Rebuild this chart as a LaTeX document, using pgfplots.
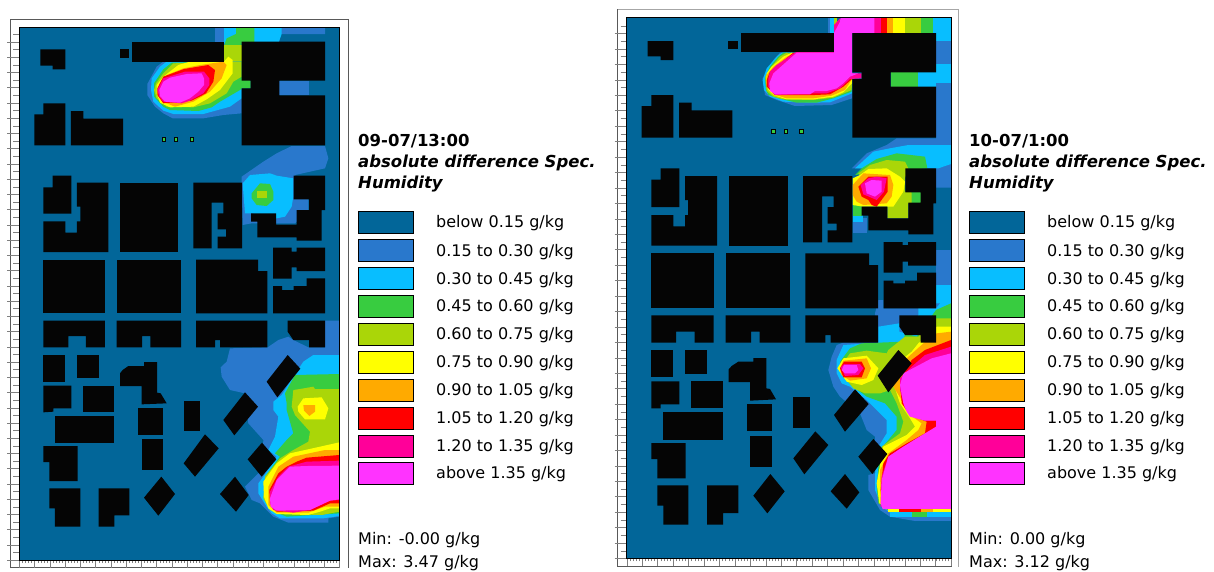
\documentclass[border=0pt]{standalone}
\usepackage{pgfplots}
\usepackage{fontspec}
\pgfplotsset{compat=1.18}
\setmainfont{DejaVu Sans}
\definecolor{c0}{RGB}{2,102,153}
\definecolor{c1}{RGB}{41,120,204}
\definecolor{c2}{RGB}{8,190,255}
\definecolor{c3}{RGB}{56,204,64}
\definecolor{c4}{RGB}{170,214,8}
\definecolor{c5}{RGB}{255,255,0}
\definecolor{c6}{RGB}{255,170,0}
\definecolor{c7}{RGB}{255,0,0}
\definecolor{c8}{RGB}{255,0,153}
\definecolor{c9}{RGB}{255,51,255}
\definecolor{k}{RGB}{5,5,5}
\def\xo{0}\def\yo{0}
\newcommand{\poly}[2]{\addplot[fill=#1,draw=none,forget plot] table[row sep=\\, x expr=\thisrowno{0}/3+\xo, y expr=\thisrowno{1}/3+\yo]{#2};}
\newcommand{\rect}[5]{\poly{#1}{#2 #3\\#4 #3\\#4 #5\\#2 #5\\}}
\newcommand{\swatch}[3]{\addplot[fill=#1,draw=black,line width=0.9pt,forget plot] coordinates {(#2,#3-11)(#2+55,#3-11)(#2+55,#3+11)(#2,#3+11)} -- cycle;}
\newcommand{\ltext}[3]{\node[anchor=west,inner sep=0pt,font=\fontsize{16pt}{16pt}\selectfont] at (axis cs:#1,#2) {#3};}
\newcommand{\legendblock}[5]{%
\swatch{c0}{#1}{222}\swatch{c1}{#1}{250}\swatch{c2}{#1}{278}\swatch{c3}{#1}{306}\swatch{c4}{#1}{334}%
\swatch{c5}{#1}{362}\swatch{c6}{#1}{390}\swatch{c7}{#1}{418}\swatch{c8}{#1}{446}\swatch{c9}{#1}{473}%
\ltext{#2}{223}{below 0.15 g/kg}\ltext{#2}{252}{0.15 to 0.30 g/kg}\ltext{#2}{280}{0.30 to 0.45 g/kg}%
\ltext{#2}{307}{0.45 to 0.60 g/kg}\ltext{#2}{335}{0.60 to 0.75 g/kg}\ltext{#2}{363}{0.75 to 0.90 g/kg}%
\ltext{#2}{391}{0.90 to 1.05 g/kg}\ltext{#2}{419}{1.05 to 1.20 g/kg}\ltext{#2}{447}{1.20 to 1.35 g/kg}%
\ltext{#2}{474}{above 1.35 g/kg}%
\ltext{#1}{540}{#4}\ltext{#1}{563}{#5}%
\node[anchor=west,inner sep=0pt,font=\bfseries\fontsize{16.5pt}{16.5pt}\selectfont] at (axis cs:#1,141) {#3};%
\node[anchor=west,inner sep=0pt,font=\bfseries\itshape\fontsize{16.5pt}{16.5pt}\selectfont] at (axis cs:#1,162.5) {absolute difference Spec.};%
\node[anchor=west,inner sep=0pt,font=\bfseries\itshape\fontsize{16.5pt}{16.5pt}\selectfont] at (axis cs:#1,184) {Humidity};%
}
\pgfplotsset{mapaxis/.style={scale only axis,clip=true,y dir=reverse,axis line style={black,line width=0.6pt},
 tick align=outside,xticklabels={},yticklabels={},extra y tick labels={}}}
\begin{document}
\begin{tikzpicture}
\useasboundingbox (0,0) rectangle (1214pt,571pt);
% page layer: frames, legends, text
\begin{axis}[at={(0,0)},anchor=south west,scale only axis,width=1214pt,height=571pt,hide axis,
 xmin=0,xmax=1214,ymin=0,ymax=571,y dir=reverse,clip=false]
\addplot[draw=black!65,line width=0.9pt,forget plot] coordinates {(10.3,568)(10.3,19)(348.3,19)(348.3,568)};
\addplot[draw=black!65,line width=0.9pt,forget plot] coordinates {(10.3,567.7)(340,567.7)};
\addplot[draw=black!35,line width=0.9pt,forget plot] coordinates {(617.3,567)(617.3,9)(958.5,9)(958.5,567)};
\addplot[draw=black!65,line width=0.9pt,forget plot] coordinates {(617.3,9)(617.3,566.7)(952,566.7)};
\legendblock{358}{436}{09-07/13:00}{Min: -0.00 g/kg}{Max: 3.47 g/kg}
\legendblock{969}{1047}{10-07/1:00}{Min: 0.00 g/kg}{Max: 3.12 g/kg}
\end{axis}
% ---------- LEFT MAP ----------
\begin{axis}[mapaxis,at={(19.33pt,11pt)},anchor=south west,width=320pt,height=532.67pt,
 xmin=19.33,xmax=339.33,ymin=27.33,ymax=560,xtick=\empty,
 ytick={41.84,72.32,...,560},extra y ticks={57.08,87.56,...,545},extra y tick style={tick style={color=black!50}},
 minor ytick={34.22,49.46,...,553},major tick length=12pt,minor tick length=6pt,ytick pos=left]
\def\xo{0}\def\yo{10}
\rect{c0}{58}{52}{1018}{1650}
% top plume
\poly{c1}{645 52\\975 52\\975 72\\838 72\\838 100\\725 100\\725 155\\672 155\\645 100\\}
\rect{c1}{838}{212}{928}{256}
\poly{c2}{672 52\\845 52\\845 72\\835 100\\672 100\\}
\poly{c3}{708 52\\763 52\\763 100\\725 100\\725 108\\672 108\\680 85\\708 72\\}
\rect{c4}{672}{105}{725}{160}
\poly{c1}{442 222\\470 170\\490 155\\725 155\\725 310\\670 315\\610 325\\518 325\\490 310\\465 290\\455 275\\442 255\\}
\poly{c2}{455 205\\480 170\\500 155\\725 155\\725 265\\690 290\\610 312\\520 312\\490 302\\460 275\\453 240\\}
\poly{c3}{462 220\\490 178\\515 158\\725 155\\725 200\\752 212\\752 235\\725 235\\720 240\\660 275\\635 292\\595 303\\510 300\\490 290\\462 260\\}
\poly{c4}{468 220\\490 190\\520 160\\690 155\\725 155\\725 200\\700 215\\680 250\\630 280\\580 292\\500 290\\470 265\\462 240\\}
\poly{c5}{470 225\\490 200\\535 165\\570 155\\672 155\\685 140\\698 150\\698 190\\660 240\\620 268\\580 290\\510 292\\480 278\\470 250\\}
\poly{c6}{478 222\\500 195\\550 175\\600 165\\670 155\\680 165\\665 205\\630 245\\580 275\\525 290\\500 280\\475 260\\}
\poly{c7}{472 235\\490 200\\552 177\\625 165\\645 180\\640 215\\618 250\\575 272\\490 280\\472 255\\}
\poly{c8}{472 240\\490 205\\555 185\\612 185\\628 205\\628 225\\610 250\\570 272\\545 280\\490 275\\478 260\\}
\poly{c9}{478 240\\490 215\\510 203\\560 192\\605 190\\612 205\\612 225\\595 245\\570 265\\540 278\\495 275\\480 258\\}
% middle plume
\poly{c1}{725 500\\790 455\\830 430\\875 408\\975 408\\985 445\\975 475\\885 495\\925 570\\925 600\\885 640\\830 640\\755 640\\728 645\\725 520\\}
\poly{c2}{728 520\\750 495\\810 490\\830 497\\880 505\\880 560\\875 590\\855 620\\830 625\\755 610\\735 610\\}
\poly{c3}{755 550\\780 520\\810 522\\820 545\\820 570\\800 588\\770 585\\755 565\\}
\rect{c4}{772}{542}{800}{565}
% lower right plume
\def\yo{290}
\poly{c1}{690 175\\803 172\\835 150\\865 140\\880 150\\925 172\\975 172\\975 92\\1018 92\\1018 680\\985 685\\985 698\\865 698\\820 680\\780 640\\755 630\\735 590\\770 555\\785 540\\790 450\\745 400\\735 310\\690 300\\665 260\\662 232\\680 215\\}
\poly{c2}{880 260\\910 215\\940 195\\1018 195\\1018 678\\970 685\\840 685\\815 670\\800 650\\775 610\\775 580\\790 560\\830 500\\805 480\\825 440\\835 380\\820 360\\820 335\\845 315\\}
\poly{c3}{855 310\\885 255\\1018 252\\1018 670\\860 680\\810 660\\795 620\\795 560\\840 500\\825 490\\860 450\\880 430\\860 360\\860 340\\}
\poly{c4}{880 300\\900 297\\940 290\\945 297\\1018 297\\1018 665\\965 675\\855 672\\810 660\\790 625\\795 560\\840 505\\880 480\\925 455\\930 425\\885 375\\875 350\\}
\poly{c5}{893 350\\910 325\\965 322\\985 355\\975 388\\915 388\\895 365\\}
\poly{c6}{910 345\\945 345\\945 365\\928 378\\912 362\\}
\poly{c5}{790 575\\830 520\\870 490\\960 470\\1018 457\\1018 655\\990 655\\960 665\\925 675\\830 672\\805 655\\792 620\\}
\poly{c6}{805 590\\835 530\\880 500\\975 480\\1018 480\\1018 650\\975 650\\925 668\\830 668\\805 645\\}
\poly{c7}{808 600\\835 550\\860 530\\890 515\\920 503\\1018 495\\1018 640\\990 640\\940 662\\830 665\\810 640\\}
\poly{c8}{810 605\\835 560\\865 530\\920 515\\1018 512\\1018 630\\990 632\\930 660\\880 668\\820 660\\810 640\\}
\poly{c9}{810 625\\830 570\\870 530\\920 528\\1018 527\\1018 628\\990 632\\930 660\\830 662\\812 650\\}
% buildings
\def\yo{10}
\poly{k}{121 118\\196 118\\196 178\\158 178\\158 167\\121 167\\}
\rect{k}{360}{118}{388}{144}
\rect{k}{396}{95}{672}{155}
\poly{k}{725 95\\975 95\\975 212\\838 212\\838 256\\975 256\\975 406\\725 406\\725 235\\752 235\\752 212\\725 212\\}
\poly{k}{130 280\\196 280\\196 406\\103 406\\103 313\\130 313\\}
\poly{k}{213 303\\250 303\\250 326\\369 326\\369 406\\213 406\\}
\rect{k}{487}{382}{499}{395}\rect{k}{523}{382}{535}{395}\rect{k}{569}{382}{581}{395}
\rect{c3}{490}{385}{496}{392}\rect{c3}{526}{385}{532}{392}\rect{c3}{572}{385}{578}{392}
\poly{k}{158 497\\214 497\\214 611\\130 611\\130 532\\158 532\\}
\poly{k}{231 518\\325 518\\325 726\\130 726\\130 634\\196 634\\196 668\\231 668\\231 634\\241 634\\241 590\\231 590\\}
\rect{k}{360}{518}{535}{726}
\poly{k}{580 518\\726 518\\726 715\\653 715\\653 680\\678 680\\678 658\\653 658\\653 610\\670 610\\670 578\\635 578\\635 715\\580 715\\}
\poly{k}{881 497\\975 497\\975 600\\965 600\\965 692\\890 692\\890 682\\772 682\\772 635\\753 635\\753 610\\828 610\\828 644\\890 644\\890 600\\927 600\\927 568\\881 568\\}
\poly{k}{819 713\\875 713\\875 725\\890 725\\890 713\\975 713\\975 783\\890 783\\890 772\\875 772\\875 806\\819 806\\}
\poly{k}{920 805\\975 805\\975 910\\819 910\\819 828\\846 828\\846 840\\881 840\\881 828\\920 828\\}
\rect{k}{130}{749}{315}{910}
\rect{k}{350}{749}{543}{910}
\poly{k}{588 749\\774 749\\774 783\\802 783\\802 910\\588 910\\}
\def\yo{290}
\poly{k}{130 92\\315 92\\315 172\\258 172\\258 138\\205 138\\205 172\\130 172\\}
\poly{k}{350 92\\543 92\\543 172\\451 172\\451 138\\426 138\\426 172\\350 172\\}
\poly{k}{588 92\\802 92\\802 172\\660 172\\660 150\\645 150\\645 172\\588 172\\}
\poly{k}{863 92\\975 92\\975 172\\927 172\\927 150\\880 150\\863 125\\}
\rect{k}{130}{195}{196}{275}
\rect{k}{231}{195}{297}{265}
\poly{k}{130 287\\214 287\\214 355\\160 355\\160 365\\130 367\\}
\rect{k}{248}{287}{343}{366}
\rect{k}{165}{377}{343}{459}
\poly{k}{130 468\\233 468\\233 573\\148 573\\148 516\\130 516\\}
\poly{k}{148 595\\241 595\\241 710\\165 710\\165 655\\148 655\\}
\poly{k}{296 595\\388 595\\388 676\\343 676\\343 710\\296 710\\}
\poly{k}{360 250\\368 240\\385 228\\432 228\\432 216\\471 216\\471 308\\482 310\\500 340\\425 343\\425 288\\360 288\\}
\rect{k}{414}{354}{489}{436}
\rect{k}{425}{447}{489}{540}
\rect{k}{552}{332}{599}{424}
\poly{k}{484 560\\525 612\\475 677\\432 623\\}
\poly{k}{705 560\\746 615\\708 665\\660 612\\}
\poly{k}{786 458\\829 508\\785 560\\743 508\\}
\poly{k}{615 433\\656 475\\585 560\\551 520\\}
\poly{k}{735 307\\774 350\\703 436\\670 390\\}
\poly{k}{863 195\\901 236\\832 322\\800 275\\}
\end{axis}
\begin{axis}[mapaxis,at={(19.33pt,11pt)},anchor=south west,width=320pt,height=532.67pt,
 xmin=19.33,xmax=339.33,ymin=27.33,ymax=560,ytick=\empty,
 xtick={19.33,34.57,...,340},minor xtick={22.38,25.43,...,339},major tick length=8pt,minor tick length=3pt,xtick pos=lower]
\end{axis}
% ---------- RIGHT MAP ----------
\begin{axis}[mapaxis,at={(626.67pt,12.67pt)},anchor=south west,width=324.33pt,height=540.66pt,
 xmin=626.67,xmax=951,ymin=17.67,ymax=558.33,xtick=\empty,
 ytick={33.37,64.25,...,559},extra y ticks={48.81,79.69,...,543},extra y tick style={tick style={color=black!50}},
 minor ytick={25.65,41.09,...,551},major tick length=12pt,minor tick length=6pt,ytick pos=left]
\def\xo{610}\def\yo{5}
\rect{c0}{50}{38}{1023}{1665}
% top strip
\rect{c1}{655}{38}{672}{84}
\rect{c2}{660}{38}{672}{84}
\rect{c4}{672}{38}{680}{70}
\rect{c8}{793}{38}{812}{84}\rect{c7}{812}{38}{832}{84}\rect{c6}{832}{38}{849}{84}
\rect{c5}{849}{38}{886}{84}\rect{c4}{886}{38}{932}{84}\rect{c3}{932}{38}{970}{84}
\rect{c2}{970}{38}{1023}{108}
\rect{c1}{978}{108}{1023}{178}
\rect{c2}{978}{178}{1023}{235}
\rect{c2}{925}{202}{997}{245}
\rect{c3}{842}{202}{925}{245}
\rect{c1}{978}{235}{1023}{420}
\rect{c1}{978}{735}{1023}{840}
\rect{c2}{978}{840}{1023}{900}
% upper plume
\poly{c1}{458 220\\490 165\\510 143\\560 143\\726 200\\726 280\\665 300\\555 303\\500 285\\465 270\\}
\poly{c2}{458 225\\470 190\\500 155\\515 143\\540 143\\726 230\\726 265\\660 292\\600 293\\520 290\\480 275\\462 255\\}
\poly{c3}{465 220\\480 185\\505 155\\520 143\\550 143\\726 225\\725 260\\670 280\\620 293\\560 293\\505 280\\475 270\\468 255\\}
\poly{c4}{466 215\\480 190\\510 155\\530 143\\726 220\\725 255\\670 278\\610 285\\520 283\\490 275\\470 258\\}
\poly{c5}{470 205\\485 185\\520 155\\545 143\\726 215\\726 235\\700 262\\670 275\\610 283\\530 283\\490 270\\475 255\\468 232\\}
\poly{c6}{470 210\\490 185\\530 155\\555 143\\726 222\\705 255\\665 272\\610 280\\530 280\\490 268\\470 240\\}
\poly{c7}{470 225\\480 200\\550 143\\726 222\\700 245\\660 268\\615 270\\495 270\\470 245\\}
\poly{c8}{475 222\\480 200\\500 180\\555 143\\672 84\\672 60\\690 40\\726 84\\726 205\\755 205\\755 220\\720 222\\690 250\\650 265\\615 265\\495 270\\475 245\\}
\poly{c9}{478 235\\490 205\\560 143\\672 143\\672 84\\690 50\\692 38\\793 38\\793 84\\726 84\\726 205\\745 205\\720 215\\700 235\\680 250\\650 258\\615 258\\600 268\\495 268\\480 258\\}
% middle plume
\poly{c1}{725 490\\770 445\\830 420\\860 400\\1023 400\\1023 548\\975 548\\975 490\\}
\rect{c1}{730}{640}{772}{685}
\rect{c2}{730}{630}{760}{650}
\poly{c2}{735 490\\790 440\\840 430\\895 420\\1023 420\\1023 477\\985 490\\}
\poly{c3}{735 510\\755 490\\800 462\\860 445\\945 455\\952 490\\885 495\\}
\rect{c3}{728}{600}{755}{632}
\rect{c3}{885}{562}{932}{593}
\poly{c4}{745 505\\780 480\\830 465\\885 470\\895 490\\885 520\\885 560\\905 562\\905 593\\895 595\\895 640\\832 640\\832 600\\}
\poly{c5}{728 520\\750 510\\775 492\\830 490\\870 515\\885 530\\880 560\\860 590\\850 605\\760 605\\728 600\\}
\poly{c6}{728 540\\760 505\\840 510\\850 540\\845 575\\830 595\\760 600\\740 590\\728 570\\}
\poly{c7}{745 545\\775 515\\833 515\\833 560\\800 605\\785 600\\775 585\\755 575\\}
\poly{c8}{752 540\\775 520\\800 515\\830 520\\822 560\\800 585\\770 572\\760 568\\}
\poly{c9}{765 535\\785 525\\815 527\\815 560\\795 575\\770 565\\}
% lower plume
\def\yo{290}
\poly{c1}{795 70\\805 30\\820 30\\820 55\\925 55\\978 40\\1023 40\\1023 690\\915 693\\840 680\\810 660\\775 600\\775 555\\795 550\\795 440\\770 420\\750 370\\690 320\\670 290\\655 240\\665 200\\680 165\\700 158\\805 158\\}
\poly{c2}{680 250\\680 210\\700 165\\805 158\\805 110\\868 100\\868 125\\885 130\\925 75\\925 55\\978 55\\1023 0\\1023 680\\915 680\\840 668\\815 650\\795 600\\795 555\\805 470\\830 430\\830 390\\800 360\\770 330\\720 290\\695 280\\}
\poly{c3}{700 260\\690 215\\720 175\\755 160\\880 155\\885 130\\920 140\\978 60\\1023 40\\1023 672\\950 680\\905 680\\840 665\\805 640\\800 590\\810 480\\860 420\\860 380\\825 340\\770 320\\730 290\\}
\poly{c4}{710 270\\695 225\\720 190\\770 182\\830 190\\835 180\\885 140\\925 140\\978 85\\1023 85\\1023 665\\905 670\\835 660\\805 620\\815 470\\870 430\\880 395\\860 340\\840 300\\810 310\\765 310\\730 295\\}
\poly{c5}{682 235\\700 205\\770 197\\805 235\\790 270\\755 285\\710 275\\}
\poly{c6}{690 235\\700 212\\770 205\\783 235\\770 265\\720 272\\695 255\\}
\poly{c7}{690 235\\702 215\\755 215\\765 235\\755 262\\700 262\\}
\poly{c8}{692 232\\702 222\\750 222\\760 235\\745 255\\705 258\\}
\poly{c9}{702 225\\740 225\\745 240\\735 250\\705 250\\695 240\\}
\poly{c5}{880 205\\905 185\\925 160\\980 110\\1023 110\\1023 665\\850 657\\808 640\\800 580\\820 470\\890 435\\915 410\\900 385\\870 340\\855 295\\}
\poly{c6}{890 205\\940 160\\980 130\\1023 125\\1023 660\\850 660\\812 640\\810 540\\835 490\\890 450\\925 420\\935 400\\900 375\\875 330\\850 290\\}
\poly{c7}{905 210\\945 180\\1023 150\\1023 657\\820 657\\812 600\\820 520\\840 490\\890 460\\945 430\\950 395\\900 375\\875 340\\870 270\\}
\poly{c8}{905 230\\945 195\\1023 170\\1023 657\\812 650\\815 560\\835 500\\880 470\\945 435\\978 415\\978 392\\945 392\\905 375\\885 355\\870 300\\870 265\\}
\poly{c9}{1023 190\\965 205\\880 250\\870 285\\880 340\\890 365\\900 380\\945 392\\978 392\\978 410\\945 430\\920 445\\880 470\\835 500\\815 570\\812 640\\818 657\\1023 657\\}
\rect{c5}{835}{657}{867}{667}\rect{c7}{867}{657}{932}{667}\rect{c6}{932}{657}{970}{667}\rect{c5}{970}{657}{1023}{667}
\rect{c2}{840}{667}{1023}{680}\rect{c3}{905}{667}{950}{680}\rect{c1}{915}{680}{1023}{692}
% buildings
\def\yo{5}
\poly{k}{113 108\\190 108\\190 165\\152 165\\152 154\\113 154\\}
\rect{k}{355}{108}{385}{132}
\rect{k}{393}{84}{672}{142}
\poly{k}{727 84\\978 84\\978 202\\842 202\\842 245\\978 245\\978 398\\727 398\\727 222\\755 222\\755 202\\727 202\\}
\poly{k}{124 270\\190 270\\190 398\\95 398\\95 303\\124 303\\}
\poly{k}{207 293\\245 293\\245 316\\367 316\\367 398\\207 398\\}
\rect{k}{484}{373}{497}{388}\rect{k}{521}{373}{534}{388}\rect{k}{568}{373}{581}{388}
\rect{c3}{487}{376}{494}{385}\rect{c3}{524}{376}{531}{385}\rect{c3}{571}{376}{578}{385}
\poly{k}{152 490\\208 490\\208 606\\124 606\\124 524\\152 524\\}
\poly{k}{225 513\\321 513\\321 722\\124 722\\124 630\\190 630\\190 664\\225 664\\225 630\\234 630\\234 585\\225 585\\}
\rect{k}{356}{513}{534}{722}
\poly{k}{579 513\\727 513\\727 712\\653 712\\653 676\\680 676\\680 656\\653 656\\653 606\\671 606\\671 574\\636 574\\636 712\\579 712\\}
\poly{k}{886 490\\978 490\\978 595\\970 595\\970 688\\895 688\\895 676\\775 676\\775 632\\755 632\\755 605\\832 605\\832 640\\895 640\\895 593\\932 593\\932 562\\886 562\\}
\poly{k}{821 711\\878 711\\878 720\\894 720\\894 711\\978 711\\978 782\\894 782\\894 770\\878 770\\878 803\\821 803\\}
\poly{k}{921 803\\978 803\\978 910\\821 910\\821 827\\850 827\\850 835\\885 835\\885 827\\921 827\\}
\rect{k}{124}{745}{311}{910}
\rect{k}{347}{745}{541}{910}
\poly{k}{586 745\\777 745\\777 780\\804 780\\804 910\\586 910\\}
\def\yo{290}
\poly{k}{124 76\\311 76\\311 158\\254 158\\254 125\\198 125\\198 158\\124 158\\}
\poly{k}{347 76\\541 76\\541 158\\449 158\\449 125\\423 125\\423 158\\347 158\\}
\poly{k}{586 76\\804 76\\804 158\\662 158\\662 135\\646 135\\646 158\\586 158\\}
\poly{k}{868 76\\978 76\\978 158\\932 158\\932 135\\885 135\\868 110\\}
\rect{k}{124}{180}{190}{262}
\rect{k}{225}{180}{292}{252}
\poly{k}{124 274\\208 274\\208 343\\152 343\\152 355\\124 355\\}
\rect{k}{244}{274}{339}{355}
\rect{k}{160}{366}{339}{449}
\poly{k}{124 459\\227 459\\227 565\\142 565\\142 507\\124 507\\}
\poly{k}{142 586\\235 586\\235 704\\160 704\\160 647\\142 647\\}
\poly{k}{291 586\\385 586\\385 669\\339 669\\339 704\\291 704\\}
\poly{k}{356 238\\365 228\\385 215\\430 215\\430 204\\469 204\\469 295\\480 297\\498 328\\420 332\\420 276\\356 276\\}
\rect{k}{412}{343}{487}{424}
\rect{k}{421}{437}{487}{530}
\rect{k}{550}{321}{600}{413}
\poly{k}{481 552\\524 604\\472 670\\430 617\\}
\poly{k}{705 552\\748 607\\710 656\\662 604\\}
\poly{k}{790 447\\832 492\\787 552\\745 500\\}
\poly{k}{616 424\\655 465\\583 553\\550 505\\}
\poly{k}{735 298\\776 342\\705 425\\672 375\\}
\poly{k}{865 180\\905 220\\835 307\\803 257\\}
\end{axis}
\begin{axis}[mapaxis,at={(626.67pt,12.67pt)},anchor=south west,width=324.33pt,height=540.66pt,
 xmin=626.67,xmax=951,ymin=17.67,ymax=558.33,ytick=\empty,
 xtick={626.67,642.11,...,952},minor xtick={629.76,632.85,...,951},major tick length=8pt,minor tick length=3pt,xtick pos=lower]
\end{axis}
\end{tikzpicture}
\end{document}
